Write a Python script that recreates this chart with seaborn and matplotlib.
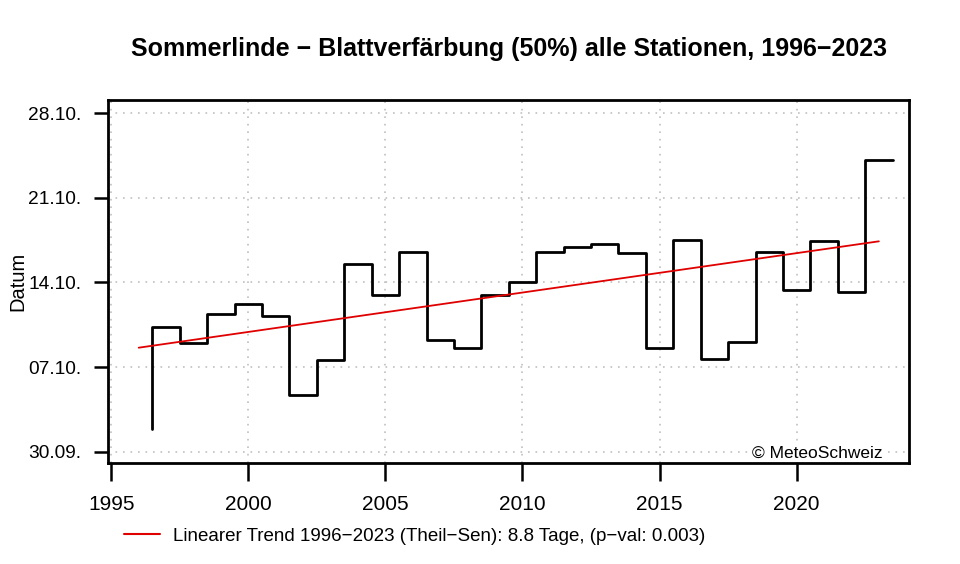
import numpy as np
import pandas as pd
import seaborn as sns
import matplotlib.pyplot as plt
from matplotlib.lines import Line2D

# data: day of year (30.09. = 273) of 50% leaf colouring, mean over all stations
years = list(range(1996, 2024))
doy = [274.9, 283.3, 282.0, 284.4, 285.2, 284.2, 277.7, 280.6, 288.5, 286.0,
       289.5, 282.2, 281.6, 286.0, 287.0, 289.5, 289.9, 290.2, 289.4, 281.6,
       290.5, 280.7, 282.1, 289.5, 286.4, 290.4, 286.2, 297.1]
trend_years = [1996, 2023]
trend_doy = [281.6, 290.4]

ytick_pos = [273, 280, 287, 294, 301]
ytick_labels = ['30.09.', '07.10.', '14.10.', '21.10.', '28.10.']
xtick_pos = [1995, 2000, 2005, 2010, 2015, 2020]

title = 'Sommerlinde \u2212 Blattverfärbung (50%) alle Stationen, 1996\u22122023'
legend_label = 'Linearer Trend 1996\u22122023 (Theil\u2212Sen): 8.8 Tage, (p\u2212val: 0.003)'

sns.set_theme(style='white')
plt.rcParams['font.family'] = ['Liberation Sans', 'DejaVu Sans']
plt.rcParams['text.color'] = 'black'
plt.rcParams['axes.labelcolor'] = 'black'
plt.rcParams['xtick.color'] = 'black'
plt.rcParams['ytick.color'] = 'black'

steps = pd.DataFrame({'x': np.array(years) + 0.5, 'doy': doy})
trend = pd.DataFrame({'x': trend_years, 'doy': trend_doy})

fig = plt.figure(figsize=(9.6, 5.64), dpi=100)
ax = fig.add_axes([0.1125, 0.1786, 0.8344, 0.6441])

# R-style type="S" step line
sns.lineplot(data=steps, x='x', y='doy', ax=ax, color='black', linewidth=2.0,
             drawstyle='steps-pre', estimator=None, sort=False)
sns.lineplot(data=trend, x='x', y='doy', ax=ax, color='#e00000', linewidth=1.3,
             estimator=None)

ax.set_xlim(1994.88, 2024.1)
ax.set_ylim(272.04, 302.09)
ax.set_xticks(xtick_pos)
ax.set_yticks(ytick_pos)
ax.set_yticklabels(ytick_labels)
ax.tick_params(axis='x', direction='out', length=13, width=1.8, pad=10,
               labelsize=15, colors='black', bottom=True)
ax.tick_params(axis='y', direction='out', length=10, width=1.8, pad=9,
               labelsize=13.8, colors='black', left=True)
ax.grid(True, color='#c0c0c0', linestyle=(0, (1, 3.5)), linewidth=1.2)
for s in ax.spines.values():
    s.set_color('black')
    s.set_linewidth(2.0)

ax.set_xlabel('')
ax.set_ylabel('Datum', fontsize=14.5, labelpad=1, color='black')
ax.set_title(title, fontsize=18, fontweight='bold', pad=32, color='black')

ax.text(0.967, 0.006, '\u00a9 MeteoSchweiz', transform=ax.transAxes,
        ha='right', va='bottom', fontsize=12.5, color='black',
        bbox=dict(facecolor='white', edgecolor='none', pad=0.5))

handle = Line2D([], [], color='#e00000', linewidth=1.5)
fig.legend([handle], [legend_label], loc='center left',
           bbox_to_anchor=(0.112, 1 - 536 / 564), frameon=False,
           fontsize=13.5, handlelength=1.9, handletextpad=0.7,
           labelcolor='black')

fig.savefig('out.png', dpi=100)
